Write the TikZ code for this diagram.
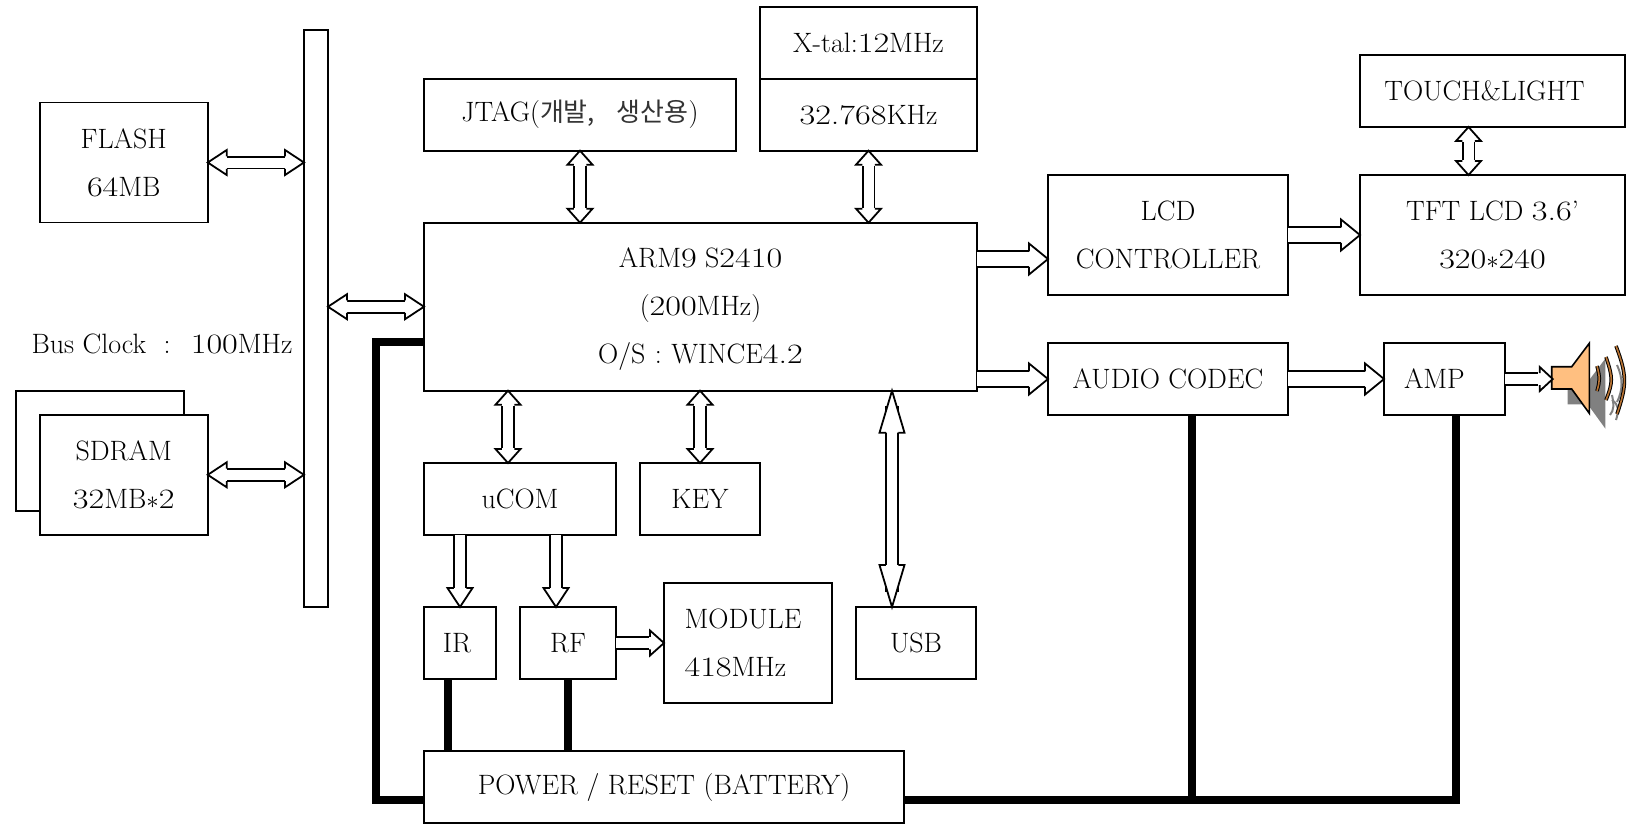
\documentclass[tikz,border=0pt]{standalone}
\usepackage{fontspec}
\usepackage{graphicx}
\usepackage{tikz}
\usetikzlibrary{arrows.meta}
\newfontfamily\krfont{Noto Sans CJK KR}
\newcommand{\num}[1]{\scalebox{1.22}[1]{#1}}
\definecolor{conecolor}{HTML}{FFBF80}
\definecolor{shadecolor}{HTML}{808080}
\definecolor{wavecolor}{HTML}{B87333}
\pgfdeclarearrow{
    name=Hollow,
    defaults={length=14pt,width=25pt},
    cache=false,
    setup code={
        \pgfarrowssettipend{0pt}
        \pgfarrowssetlineend{-0.8\pgfarrowlength}
        \pgfarrowssetbackend{-\pgfarrowlength}
        \pgfarrowssetvisualbackend{-\pgfarrowlength}
    },
    drawing code={
        \pgfsetlinewidth{1.8pt}
        \pgfsetinnerlinewidth{0pt}
        \pgfsetmiterjoin
        \pgfsetfillcolor{white}
        \pgfpathmoveto{\pgfpoint{-\pgfarrowlength}{0.25\pgfarrowwidth}}
        \pgfpathlineto{\pgfpoint{-\pgfarrowlength}{0.5\pgfarrowwidth}}
        \pgfpathlineto{\pgfpoint{0pt}{0pt}}
        \pgfpathlineto{\pgfpoint{-\pgfarrowlength}{-0.5\pgfarrowwidth}}
        \pgfpathlineto{\pgfpoint{-\pgfarrowlength}{-0.25\pgfarrowwidth}}
        \pgfusepathqfillstroke
    }
}
\tikzset{
    box/.style={draw, line width=1.8pt, inner sep=0pt, outer sep=0pt, align=center, font=\fontsize{28}{48}\selectfont},
    block/.style={draw, line width=1.8pt, double, double distance=10pt, >={Hollow[length=14pt,width=25pt]}},
    blocklong/.style={block, >={Hollow[length=19pt,width=25pt]}},
    blockwide/.style={block, double distance=13.5pt, >={Hollow[length=19pt,width=31pt]}},
    blockusb/.style={block, >={Hollow[length=42pt,width=25pt]}},
    supply/.style={line width=8pt},
    wave/.style={line width=1pt, double=wavecolor, double distance=1.6pt},
    waveshade/.style={line width=2pt, draw=shadecolor}
}

\begin{document}
\begin{tikzpicture}[x=1pt,y=-1pt]
        \useasboundingbox (0,0) rectangle (1629,823);
        \node[box, minimum width=168pt, minimum height=120pt] (flash) at (123.75,162.5) {FLASH\\\num{64}MB};
        \node[box, minimum width=168pt, minimum height=120pt] (sdramback) at (100,451) {};
        \node[box, fill=white, minimum width=168pt, minimum height=120pt] (sdram) at (123.75,474.8) {SDRAM\\\num{32}MB$*$\num{2}};
        \node[box, minimum width=24pt, minimum height=577pt] (bus) at (316,318.5) {};
        \node[font=\fontsize{28}{48}\selectfont] (clock) at (162,344) {Bus Clock\hspace{9pt} : \hspace{9pt}\num{100}MHz};
        \node[box, minimum width=553pt, minimum height=168pt] (arm) at (700.5,306.7) {\rule{0pt}{24pt}ARM\num{9} S\num{2410}\\(\num{200}MHz)\\O/S\hspace{1pt} : \hspace{1pt}WINCE\num{4.2}};
        \node[box, minimum width=312pt, minimum height=72pt] (jtag) at (580,114.7) {JTAG({\krfont\fontsize{26}{48}\selectfont\color{black!80}개발,\hspace{16pt} 생산용})};
        \node[box, minimum width=217pt, minimum height=71.4pt] (xtal) at (868.5,43) {X-tal:\num{12}MHz};
        \node[box, minimum width=217pt, minimum height=72pt] (rtc) at (868.5,114.7) {\num{32.768}KHz};
        \node[box, minimum width=240pt, minimum height=120pt] (lcd) at (1168,235) {LCD\\CONTROLLER};
        \node[box, minimum width=265pt, minimum height=120pt] (tft) at (1492.5,235) {TFT LCD \num{3.6}’\\\num{320}$*$\num{240}};
        \node[box, minimum width=265pt, minimum height=72pt] (touch) at (1492.5,91) {TOUCH\&LIGHT\hspace*{16pt}};
        \node[box, minimum width=240pt, minimum height=72pt] (audio) at (1168,379) {AUDIO CODEC};
        \node[box, minimum width=120.7pt, minimum height=72pt] (amp) at (1444.4,379) {AMP\hspace*{20pt}};
        \node[box, minimum width=192pt, minimum height=72pt] (ucom) at (520,499) {uCOM};
        \node[box, minimum width=120pt, minimum height=72pt] (key) at (700,499) {KEY};
        \node[box, minimum width=72pt, minimum height=72pt] (ir) at (460,643) {IR\hspace*{6pt}};
        \node[box, minimum width=96pt, minimum height=72pt] (rf) at (568,643) {RF};
        \node[box, align=left, minimum width=168pt, minimum height=120pt] (module) at (748,643) {MODULE\hspace*{10pt}\\\num{418}MHz};
        \node[box, minimum width=120pt, minimum height=72pt] (usb) at (916,643) {USB};
        \node[box, minimum width=480pt, minimum height=72pt] (power) at (664,787) {POWER / RESET (BATTERY)};

        \draw[blocklong,<->] (flash.east) -- (flash.east -| bus.west);
        \draw[blocklong,<->] (sdram.east) -- (sdram.east -| bus.west);
        \draw[blocklong,<->] (arm.west -| bus.east) -- (arm.west);
        \draw[block,<->] (jtag.south) -- (jtag.south |- arm.north);
        \draw[block,<->] (rtc.south) -- (rtc.south |- arm.north);
        \draw[block,<->] ([xshift=-24pt]touch.south) -- ([xshift=-24pt]touch.south |- tft.north);
        \draw[block,<->] ([xshift=-12pt]ucom.north |- arm.south) -- ([xshift=-12pt]ucom.north);
        \draw[block,<->] (key.north |- arm.south) -- (key.north);
        \draw[blockusb,<->] ([xshift=-24pt]usb.north |- arm.south) -- ([xshift=-24pt]usb.north);
        \draw[blockwide,->] ([yshift=-24pt]lcd.west -| arm.east) -- ([yshift=-24pt]lcd.west);
        \draw[blockwide,->] (lcd.east) -- (tft.west);
        \draw[blockwide,->] (audio.west -| arm.east) -- (audio.west);
        \draw[blockwide,->] (audio.east) -- (amp.west);
        \draw[blocklong,->] (ir.north |- ucom.south) -- (ir.north);
        \draw[blocklong,->] ([xshift=-12pt]rf.north |- ucom.south) -- ([xshift=-12pt]rf.north);
        \draw[block,->] (rf.east) -- (rf.east -| module.west);

        \coordinate (left) at ([yshift=-12.5pt]power.west);
        \coordinate (right) at ([yshift=-12.5pt]power.east);
        \draw[supply] ([yshift=-35.3pt]arm.west) -- ++(-48,0) |- (left);
        \draw[supply] (right) -| ([xshift=12pt]amp.south);
        \draw[supply] ([xshift=24pt]audio.south) -- ([xshift=24pt]audio.south |- right);
        \draw[supply] ([xshift=-12pt]ir.south) -- ([xshift=-12pt]ir.south |- power.north);
        \draw[supply] (rf.south) -- (rf.south |- power.north);

        \fill[shadecolor] (1567.7,382) -- (1587.7,382) -- (1605.3,358.6) -- (1605.3,428.6) -- (1587.7,404.3) -- (1567.7,404.3) -- cycle;
        \draw[fill=conecolor, line width=1.6pt] (1551.7,366.7) -- (1571.7,366.7) -- (1589.3,343.3) -- (1589.3,413.3) -- (1571.7,389) -- (1551.7,389) -- cycle;
        \coordinate (speaker) at (1552.7,379);
        \draw[blocklong,->,>={Hollow[length=13pt,width=24pt]}] (amp.east) -- (speaker);
        \draw[waveshade] (1617,365) .. controls (1623,378) and (1623,390) .. (1617,402);
        \draw[waveshade] (1612,395) .. controls (1614,405) and (1614,410) .. (1610,415);
        \draw[waveshade] (1612,400) .. controls (1619,405) and (1619,410) .. (1616,420);
        \draw[wave] (1597,366) .. controls (1600,378) and (1600,380) .. (1597,391);
        \draw[wave] (1606,357) .. controls (1613,378) and (1613,382) .. (1606,400);
        \draw[wave] (1616,346) .. controls (1627,375) and (1627,385) .. (1617,414);
\end{tikzpicture}
\end{document}
